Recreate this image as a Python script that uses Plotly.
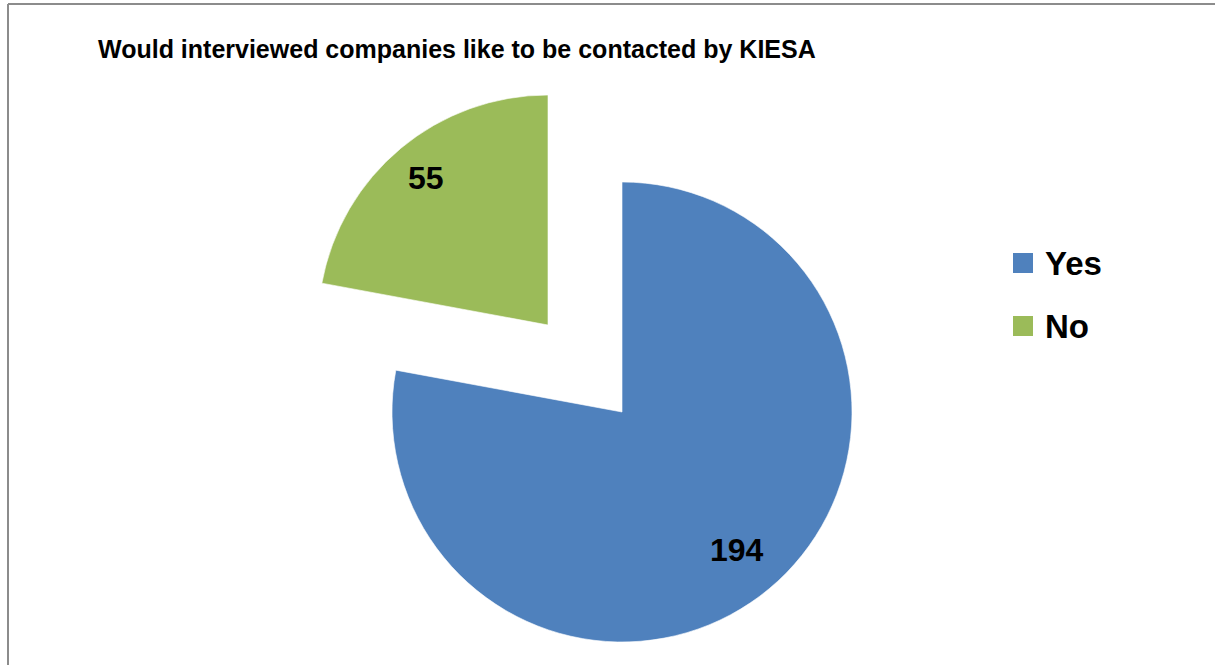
import math
import plotly.graph_objects as go

# Survey answers
labels = ["Yes", "No"]
counts = [194, 55]
colors = ["#4F81BD", "#9BBB59"]
title_text = "Would interviewed companies like to be contacted by KIESA"

W, H = 1215, 665
RADIUS = 230                      # pie radius in px
CENTERS = {"Yes": (622, 412),     # pie centre of the main body
           "No": (548, 325)}      # exploded slice centre
LABEL_R = {"Yes": 0.78, "No": 0.83}

TRANSPARENT = "rgba(0,0,0,0)"
total = sum(counts)


def domain_for(cx, cy, r):
    return dict(x=[(cx - r) / W, (cx + r) / W],
                y=[1 - (cy + r) / H, 1 - (cy - r) / H])


fig = go.Figure()
annotations = []

# One pie trace per slice so the "No" wedge can sit apart from the rest
for i, lab in enumerate(labels):
    cx, cy = CENTERS[lab]
    slice_colors = [c if j == i else TRANSPARENT for j, c in enumerate(colors)]
    fig.add_trace(go.Pie(
        labels=labels,
        values=counts,
        sort=False,
        direction="clockwise",
        rotation=0,
        marker=dict(colors=slice_colors,
                    line=dict(color=["rgba(255,255,255,0.6)" if j == i else TRANSPARENT
                                     for j in range(len(labels))], width=1)),
        textinfo="none",
        hoverinfo="label+value",
        showlegend=False,
        domain=domain_for(cx, cy, RADIUS),
    ))

    # value label at the slice's mid-angle
    start = sum(counts[:i])
    mid = (start + counts[i] / 2) / total * 2 * math.pi
    px = cx + LABEL_R[lab] * RADIUS * math.sin(mid)
    py = cy - LABEL_R[lab] * RADIUS * math.cos(mid)
    annotations.append(dict(
        x=px / W, y=1 - py / H, xref="paper", yref="paper",
        text=f"<b>{counts[i]}</b>", showarrow=False,
        font=dict(family="Liberation Sans, Arial, sans-serif", size=32, color="black"),
        xanchor="center", yanchor="middle"))

# Title
annotations.append(dict(
    x=96 / W, y=1 - 49 / H, xref="paper", yref="paper",
    text=f"<b>{title_text}</b>", showarrow=False,
    font=dict(family="Liberation Sans, Arial, sans-serif", size=25, color="black"),
    xanchor="left", yanchor="middle"))

# Legend drawn as squares plus text
shapes = []
legend_rows = [263, 326]
for lab, col, yc in zip(labels, colors, legend_rows):
    shapes.append(dict(type="rect", xref="paper", yref="paper",
                       x0=1013 / W, x1=1033 / W,
                       y0=1 - (yc + 10) / H, y1=1 - (yc - 10) / H,
                       fillcolor=col, line=dict(width=0)))
    annotations.append(dict(
        x=1043 / W, y=1 - yc / H, xref="paper", yref="paper",
        text=f"<b>{lab}</b>", showarrow=False,
        font=dict(family="Liberation Sans, Arial, sans-serif", size=33, color="black"),
        xanchor="left", yanchor="middle"))

# Chart frame (top and left edges)
frame_col = "#8c8c8c"
shapes.append(dict(type="line", xref="paper", yref="paper",
                   x0=8 / W, x1=1, y0=1 - 4 / H, y1=1 - 4 / H,
                   line=dict(color=frame_col, width=2)))
shapes.append(dict(type="line", xref="paper", yref="paper",
                   x0=8 / W, x1=8 / W, y0=0, y1=1 - 4 / H,
                   line=dict(color=frame_col, width=2)))

fig.update_layout(
    width=W, height=H,
    margin=dict(l=0, r=0, t=0, b=0),
    paper_bgcolor="white",
    plot_bgcolor="white",
    annotations=annotations,
    shapes=shapes,
)

fig.write_html("out.html")
